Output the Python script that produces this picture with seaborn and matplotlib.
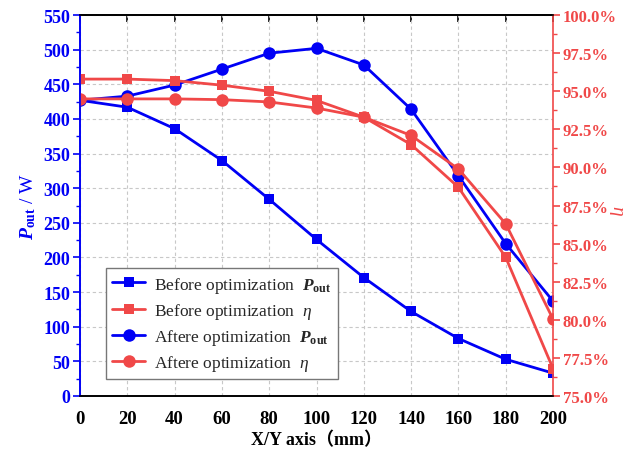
import numpy as np
import pandas as pd
import matplotlib
matplotlib.use("Agg")
import matplotlib.pyplot as plt
import seaborn as sns
from matplotlib.ticker import MultipleLocator, PercentFormatter, NullFormatter
from matplotlib.lines import Line2D

x_mm = [0, 20, 40, 60, 80, 100, 120, 140, 160, 180, 200]
pout_before = [427, 417, 386, 340, 284, 226, 171, 122, 83, 53, 33]
pout_after = [427, 433, 449, 472, 495, 502, 478, 414, 318, 220, 137]
eta_before = [95.8, 95.8, 95.7, 95.4, 95.0, 94.4, 93.3, 91.5, 88.7, 84.1, 76.8]
eta_after = [94.5, 94.5, 94.5, 94.45, 94.3, 93.9, 93.3, 92.1, 89.9, 86.3, 80.05]
legend_labels = [r"Before optimization  $\mathbfit{P}_{\mathbf{out}}$",
                 r"Before optimization  $\mathit{\eta}$",
                 r"Aftere optimization  $\mathbfit{P}_{\mathbf{out}}$",
                 r"Aftere optimization  $\mathit{\eta}$"]

sns.set_theme(style="white")
plt.rcParams['font.family'] = ['Liberation Serif', 'Noto Sans CJK SC']
plt.rcParams['mathtext.fontset'] = 'custom'
plt.rcParams['mathtext.rm'] = 'Liberation Serif'
plt.rcParams['mathtext.it'] = 'Liberation Serif:italic'
plt.rcParams['mathtext.bf'] = 'Liberation Serif:bold'
plt.rcParams['mathtext.bfit'] = 'Liberation Serif:bold:italic'

BLUE = '#0000F5'
RED = '#F04848'

df = pd.DataFrame({"x": x_mm, "pb": pout_before, "pa": pout_after,
                   "eb": eta_before, "ea": eta_after})

fig = plt.figure(figsize=(6.27, 4.6), dpi=100)
ax = fig.add_axes([0.1276, 0.137, 0.7544, 0.828])
ax2 = ax.twinx()

lw = 2.0
sns.lineplot(data=df, x="x", y="pb", ax=ax, color=BLUE, marker='s', markersize=7.5,
             markeredgewidth=0, linewidth=lw)
sns.lineplot(data=df, x="x", y="pa", ax=ax, color=BLUE, marker='o', markersize=9,
             markeredgewidth=0, linewidth=lw)
sns.lineplot(data=df, x="x", y="eb", ax=ax2, color=RED, marker='s', markersize=7.5,
             markeredgewidth=0, linewidth=lw)
sns.lineplot(data=df, x="x", y="ea", ax=ax2, color=RED, marker='o', markersize=9,
             markeredgewidth=0, linewidth=lw)

ax.set_xlim(0, 200)
ax.set_ylim(0, 550)
ax2.set_ylim(75, 100)
ax.xaxis.set_major_locator(MultipleLocator(20))
ax.yaxis.set_major_locator(MultipleLocator(50))
ax.yaxis.set_minor_locator(MultipleLocator(25))
ax2.yaxis.set_major_locator(MultipleLocator(2.5))
ax2.yaxis.set_minor_locator(MultipleLocator(1.25))
ax2.yaxis.set_major_formatter(PercentFormatter(decimals=1))

ax.grid(True, which='major', linestyle=(0, (3, 2.5)), color='#c8c8c8', linewidth=0.8)
ax2.grid(False)

for a in (ax, ax2):
    for s in a.spines.values():
        s.set_linewidth(1.2)
        s.set_color('black')
ax.spines['left'].set_color(BLUE)
ax2.spines['left'].set_color(BLUE)
ax2.spines['right'].set_color(RED)
ax.spines['right'].set_visible(False)

ax.tick_params(axis='x', which='major', direction='out', length=5, width=1.2,
               colors='black', labelsize=13.5, top=False, pad=5)
ax.tick_params(axis='y', which='major', direction='out', length=5, width=1.2,
               colors=BLUE, labelsize=13, pad=2)
ax.tick_params(axis='y', which='minor', direction='out', length=3, width=1.0,
               colors=BLUE, left=True)
ax2.tick_params(axis='y', which='major', direction='out', length=5, width=1.2,
                colors=RED, labelsize=12, pad=2)
ax2.tick_params(axis='y', which='minor', direction='out', length=3, width=1.0,
                colors=RED, right=True)
ax2.tick_params(axis='x', top=False, bottom=False)
for lab in ax.get_xticklabels() + ax.get_yticklabels() + ax2.get_yticklabels():
    lab.set_fontweight('bold')

top = ax.secondary_xaxis('top')
top.xaxis.set_major_locator(MultipleLocator(20))
top.xaxis.set_major_formatter(NullFormatter())
top.tick_params(axis='x', direction='in', length=5, width=1.2, colors='black')
top.spines['top'].set_linewidth(1.2)

ax.set_xlabel("X/Y axis（mm）", fontsize=13, fontweight='bold', color='black', labelpad=3)
ax.set_ylabel(r"$\mathbfit{P}_{\mathbf{out}}$ / W", fontsize=14, color=BLUE, labelpad=4)
ax2.set_ylabel(r"$\mathit{\eta}$", fontsize=14, color=RED, rotation=-90,
               va='center', ha='center')
ax2.yaxis.set_label_coords(1.132, 0.49)

handles = [
    Line2D([], [], color=BLUE, marker='s', markersize=7.5, markeredgewidth=0, linewidth=lw),
    Line2D([], [], color=RED, marker='s', markersize=7.5, markeredgewidth=0, linewidth=lw),
    Line2D([], [], color=BLUE, marker='o', markersize=9, markeredgewidth=0, linewidth=lw),
    Line2D([], [], color=RED, marker='o', markersize=9, markeredgewidth=0, linewidth=lw),
]
leg = ax2.legend(handles, legend_labels, loc='lower left', bbox_to_anchor=(0.055, 0.045),
                 fontsize=12.5, frameon=True, fancybox=False, edgecolor='#777777',
                 framealpha=1, labelspacing=0.35, handlelength=1.9, handletextpad=0.5,
                 borderpad=0.35, borderaxespad=0)
leg.get_frame().set_linewidth(1.0)

fig.savefig("out.png", dpi=100)
